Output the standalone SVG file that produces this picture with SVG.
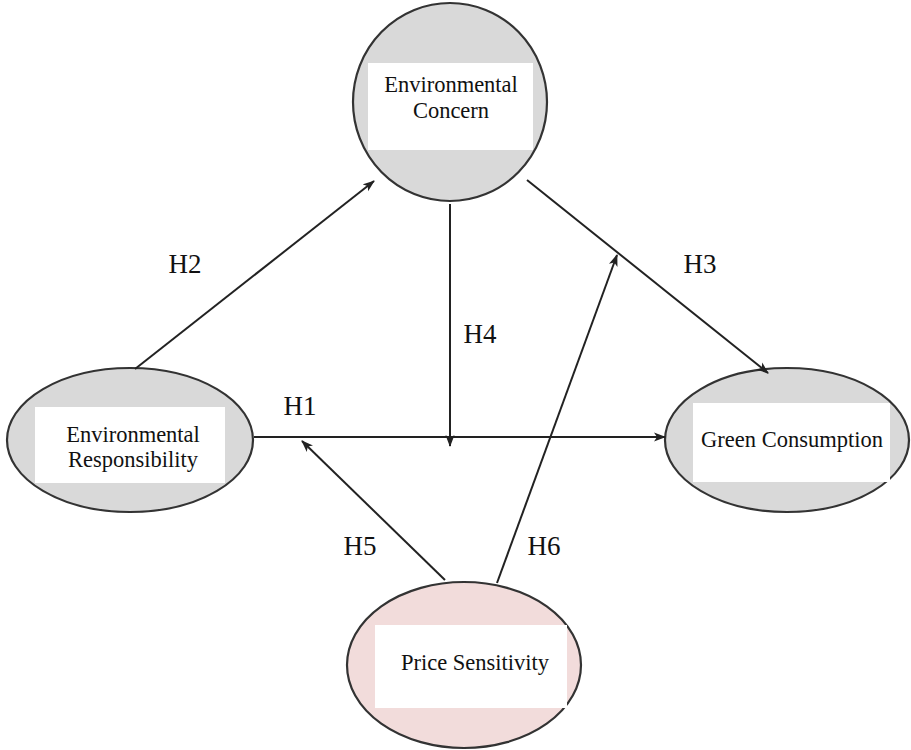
<svg xmlns="http://www.w3.org/2000/svg" width="911" height="750" viewBox="0 0 911 750">
<defs>
<marker id="arr" viewBox="0 0 12 10" refX="11" refY="5" markerWidth="12" markerHeight="10" markerUnits="userSpaceOnUse" orient="auto">
<path d="M0,0.5 L12,5 L0,9.5 L3,5 Z" fill="#222"/>
</marker>
</defs>
<style>
.node{stroke:#333;stroke-width:2.2}
.gray{fill:#d9d9d9}
.pink{fill:#f2dcdb}
.box{fill:#fff}
.t{font-family:"Liberation Serif","Times New Roman",serif;font-size:22.5px;fill:#111;text-anchor:middle}
.lbl{font-family:"Liberation Serif","Times New Roman",serif;font-size:27px;fill:#111;text-anchor:middle}
.c{stroke:#222;stroke-width:2;fill:none}
.ca{stroke:#222;stroke-width:2;fill:none;marker-end:url(#arr)}
</style>
<rect width="911" height="750" fill="#fff"/>
<g id="environmental-concern">
<ellipse class="node gray" cx="450" cy="102" rx="97" ry="99"/>
<rect class="box" x="368" y="63" width="165" height="87"/>
<text class="t" x="451" y="92">Environmental</text>
<text class="t" x="451" y="118">Concern</text>
</g>
<g id="environmental-responsibility">
<ellipse class="node gray" cx="130" cy="440" rx="123" ry="72"/>
<rect class="box" x="35" y="407" width="190" height="76"/>
<text class="t" x="133" y="442">Environmental</text>
<text class="t" x="133" y="467">Responsibility</text>
</g>
<g id="green-consumption">
<ellipse class="node gray" cx="787" cy="440" rx="122" ry="72"/>
<rect class="box" x="693" y="403" width="197" height="79"/>
<text class="t" x="792" y="447">Green Consumption</text>
</g>
<g id="price-sensitivity">
<ellipse class="node pink" cx="464" cy="665" rx="117" ry="83"/>
<rect class="box" x="375" y="625" width="192" height="83"/>
<text class="t" x="475" y="670">Price Sensitivity</text>
</g>
<g id="connectors">
<line class="ca" x1="135" y1="369" x2="374" y2="181"/>
<line class="ca" x1="527" y1="180" x2="768" y2="373"/>
<line class="ca" x1="450" y1="204" x2="450" y2="446"/>
<line class="ca" x1="254" y1="437" x2="665" y2="437"/>
<line class="ca" x1="445" y1="580" x2="302" y2="441"/>
<line class="ca" x1="497" y1="583" x2="617" y2="255"/>
</g>
<g id="labels">
<text class="lbl" x="185" y="273">H2</text>
<text class="lbl" x="700" y="273">H3</text>
<text class="lbl" x="480" y="343">H4</text>
<text class="lbl" x="300" y="415">H1</text>
<text class="lbl" x="360" y="555">H5</text>
<text class="lbl" x="544" y="555">H6</text>
</g>
</svg>
